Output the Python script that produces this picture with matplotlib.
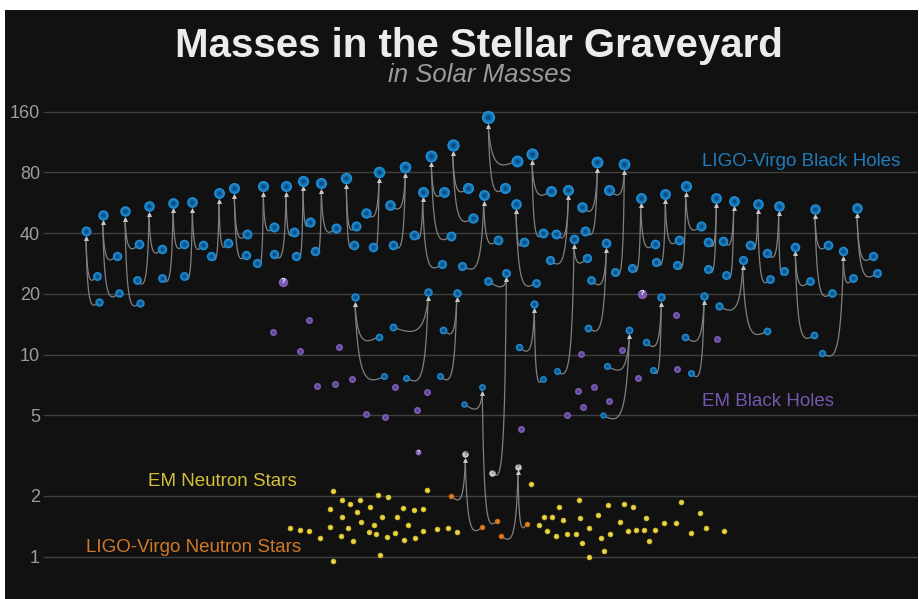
import matplotlib.pyplot as plt
import numpy as np
from matplotlib.ticker import NullLocator

plt.rcParams['font.family'] = ['Liberation Sans', 'DejaVu Sans']

# LIGO-Virgo binary black hole mergers: final mass and the two component masses
# (x is the horizontal placement of each object on the chart)
bbh_x = [86, 102.7, 125, 149, 173, 192.3, 219, 234.3, 263.3, 286, 303, 321.3, 346.3, 379,
         405.3, 422.7, 431.3, 452.7, 483.7, 488.3, 516, 532, 568.3, 574, 597.3, 606.3, 624.3,
         640.7, 665.3, 685.7, 716.3, 733.7, 757.7, 778.7, 815, 857, 355, 428, 456.7, 534.3,
         629.3, 661.3, 704, 742.7, 795.3, 843.3]
bbh_final = [41.0, 49.0, 51.2, 54.2, 56.4, 56.7, 63.0, 66.9, 68.2, 68.2, 72.7, 70.6, 75.0, 80.3,
             85.1, 64.1, 96.3, 108.9, 61.6, 149.9, 55.8, 98.6, 65.6, 37.3, 90.0, 35.7, 87.7,
             59.9, 62.7, 68.2, 59.9, 57.9, 55.9, 54.5, 52.7, 53.3, 19.2, 20.4, 20.3, 17.8,
             13.3, 19.2, 19.5, 29.3, 34.3, 32.7]
bbh_xa = [96.7, 116.7, 139.3, 137, 161.7, 184, 211.3, 247, 256.7, 273.7, 296.3, 314.7, 356,
          365.7, 390.3, 414, 443.7, 468.3, 462.3, 516.7, 524, 550.7, 555.7, 587.3, 581.7, 591.3,
          609.3, 655, 678.7, 701, 708.3, 723.3, 750, 767, 828, 873.3, 379, 392.7, 443.3, 519.3,
          607, 646, 685.3, 718.7, 809.7, 853]
bbh_ma = [24.5, 30.9, 35.2, 23.3, 23.9, 24.5, 30.7, 39.5, 28.6, 31.4, 30.9, 32.6, 43.4, 50.5,
          55.3, 39.3, 63.9, 67.1, 27.6, 91.3, 36.3, 64.7, 39.7, 30.1, 53.7, 23.3, 65.2, 35.5,
          37.1, 43.4, 36.0, 36.6, 34.9, 31.8, 35.1, 30.7, 12.3, 13.7, 13.3, 10.9, 8.8, 11.5,
          12.2, 17.4, 23.1, 23.9]
bbh_xb = [99, 118.7, 140, 161.7, 184, 203, 227.7, 246.5, 273.7, 294.3, 310.3, 335.7, 354.3,
          372.7, 393.3, 441.7, 450.7, 473.3, 498, 504.7, 536, 543.3, 549.7, 556.7, 585.3, 588,
          614.7, 632, 656.3, 677, 708, 726, 770.3, 784.3, 832, 877.3, 384.3, 406.3, 440.3, 543,
          603.3, 652.7, 691.3, 767.3, 814, 821.7]
bbh_mb = [18.3, 20.1, 18.1, 33.4, 35.2, 34.8, 35.6, 31.1, 43.1, 40.7, 45.4, 42.3, 35.1, 34.3,
          35.1, 28.0, 38.6, 47.5, 37.1, 66.9, 22.7, 39.9, 29.3, 8.3, 40.9, 13.6, 25.7, 26.8,
          28.9, 27.7, 26.6, 24.8, 23.6, 25.9, 20.2, 25.3, 7.8, 7.7, 7.8, 7.6, 5.0, 8.4, 8.1,
          13.1, 12.5, 10.2]

# mergers involving neutron stars or uncertain objects ('bh', 'ns', 'q' = unknown)
mix_x = [482.3, 506.3, 465.3, 518]
mix_final = [6.9, 25.5, 3.21, 2.79]
mix_final_kind = ['bh', 'bh', 'q', 'q']
mix_xa = [464.3, 488, 451, 500.7]
mix_ma = [5.7, 23.2, 2.00, 1.27]
mix_a_kind = ['bh', 'bh', 'ns', 'ns']
mix_xb = [497, 492.3, 482.3, 526.7]
mix_mb = [1.50, 2.60, 1.40, 1.45]
mix_b_kind = ['ns', 'q', 'ns', 'ns']

# EM black holes
embh_x = [273, 309, 300.3, 339, 317.3, 334.7, 351.7, 365.7, 384.7, 395.3, 416.7, 427, 520.7,
          567.3, 583, 578, 594.3, 608.7, 580.7, 622.3, 638.3, 676.7, 675.7, 716.7]
embh_m = [12.9, 14.8, 10.4, 10.9, 7.0, 7.2, 7.6, 5.1, 4.9, 6.9, 5.3, 6.5, 4.3, 5.0, 5.5, 6.6,
          6.9, 5.9, 10.1, 10.5, 7.7, 8.5, 15.7, 12.0]
embh_q_x = [282.7, 641.7, 418.3]
embh_q_m = [23.0, 20.0, 3.29]

# EM neutron stars
emns_x = [290, 300, 309, 320, 329.7, 330, 332.7, 342.3, 350.3, 360, 357.5, 342.2, 348.5, 341,
          353.3, 361, 370.3, 374, 369.3, 376, 377.7, 388.5, 382.3, 387, 395.5, 396.8, 403.5,
          413.8, 423.2, 408.3, 404, 415.2, 423.2, 426.8, 437.5, 447.7, 457.5, 333.3, 380.2,
          531.3, 558.7, 579, 608.3, 624.3, 633, 680.7, 700, 544, 552.3, 563.3, 580.3, 597.7,
          620.3, 646.3, 664.3, 675.7, 539, 547.3, 555.7, 566.7, 576.3, 589, 581.7, 601, 610.3,
          628, 636.3, 644.3, 655.3, 649, 691, 705.7, 724.3, 604.3, 589]
emns_m = [1.39, 1.36, 1.34, 1.24, 1.41, 1.73, 2.11, 1.91, 1.83, 1.90, 1.67, 1.57, 1.38, 1.27,
          1.20, 1.48, 1.76, 1.43, 1.32, 1.29, 2.01, 1.97, 1.57, 1.25, 1.31, 1.57, 1.74, 1.71,
          1.72, 1.43, 1.21, 1.24, 1.34, 2.14, 1.37, 1.39, 1.33, 0.95, 1.02, 2.29, 1.77, 1.90,
          1.81, 1.83, 1.76, 1.87, 1.65, 1.57, 1.57, 1.52, 1.55, 1.60, 1.48, 1.55, 1.46, 1.46,
          1.43, 1.34, 1.27, 1.29, 1.30, 1.38, 1.17, 1.23, 1.30, 1.34, 1.36, 1.35, 1.36, 1.20,
          1.31, 1.39, 1.34, 1.07, 1.00]

tick_vals = [1, 2, 5, 10, 20, 40, 80, 160]
tick_labels = ['1', '2', '5', '10', '20', '40', '80', '160']

BG = '#111111'
BLUE = ['#1f8fd6', '#1372b4', '#0a4d80']
PURPLE = ['#7b5cb2', '#5e4192']
YELLOW = ['#d6bf2c', '#f0de5a']
ORANGE = ['#cf6c17', '#e58a34']

fig = plt.figure(figsize=(9.2, 5.99), dpi=100, facecolor='white')
ax = fig.add_axes([5 / 920, 0, 913 / 920, 589 / 599])
ax.set_facecolor(BG)
ax.set_yscale('log')
ax.set_xlim(5, 918)
ax.set_ylim(0.617, 509)
for s in ax.spines.values():
    s.set_visible(False)
ax.set_xticks([])
ax.set_yticks(tick_vals, labels=tick_labels)
ax.yaxis.set_minor_locator(NullLocator())
ax.tick_params(axis='y', length=0, pad=-25.2, labelsize=13, labelcolor='#9c9c9c')
ax.hlines(tick_vals, 43, 918, color='#404040', lw=1, zorder=1)


def diam(m, kind):
    if kind == 'bh':
        return 4.4 * m ** 0.22
    if kind == 'q':
        return 6.5
    return 5.5


def dot(x, m, kind):
    d = diam(m, kind) * 0.72
    if kind == 'bh':
        ax.plot(x, m, 'o', ms=d, color=BLUE[0], mec='none', zorder=5)
        ax.plot(x, m, 'o', ms=d * 0.72, color=BLUE[1], mec='none', zorder=5)
        ax.plot(x, m, 'o', ms=d * 0.38, color=BLUE[2], mec='none', zorder=5)
    elif kind == 'ns':
        ax.plot(x, m, 'o', ms=d, color=ORANGE[0], mec='none', zorder=5)
        ax.plot(x, m, 'o', ms=d * 0.45, color=ORANGE[1], mec='none', zorder=5)
    else:
        ax.plot(x, m, 'o', ms=d, color='#c9c9c9', mec='none', zorder=5)
        ax.text(x, m, '?', ha='center', va='center', fontsize=4.5, fontweight='bold',
                color='#555555', zorder=6)


inv = ax.transData.inverted()


def link(xc, mc, xf, mf, rf):
    c = ax.transData.transform((xc, mc))
    f = ax.transData.transform((xf, mf))
    end = np.array([f[0], f[1] - rf - 3])
    dx = c[0] - f[0]
    p1 = np.array([f[0] + 0.4 * dx, c[1] - 8])
    p2 = np.array([f[0] + 0.12 * dx, c[1] - 8])
    t = np.linspace(0, 1, 80)[:, None]
    pts = (1 - t) ** 3 * c + 3 * (1 - t) ** 2 * t * p1 + 3 * (1 - t) * t ** 2 * p2 + t ** 3 * end
    d = inv.transform(pts)
    ax.plot(d[:, 0], d[:, 1], color='#808080', lw=0.9, zorder=2, solid_capstyle='round')
    a = inv.transform([end + [0, 1]])
    ax.plot(a[0, 0], a[0, 1], marker='^', ms=3.4, color='#c8c8c8', mec='none', zorder=3)


for i in range(len(bbh_x)):
    rf = diam(bbh_final[i], 'bh') / 2
    link(bbh_xa[i], bbh_ma[i], bbh_x[i], bbh_final[i], rf)
    link(bbh_xb[i], bbh_mb[i], bbh_x[i], bbh_final[i], rf)
    dot(bbh_x[i], bbh_final[i], 'bh')
    dot(bbh_xa[i], bbh_ma[i], 'bh')
    dot(bbh_xb[i], bbh_mb[i], 'bh')

for i in range(len(mix_x)):
    rf = diam(mix_final[i], mix_final_kind[i]) / 2
    link(mix_xa[i], mix_ma[i], mix_x[i], mix_final[i], rf)
    link(mix_xb[i], mix_mb[i], mix_x[i], mix_final[i], rf)
    dot(mix_x[i], mix_final[i], mix_final_kind[i])
    dot(mix_xa[i], mix_ma[i], mix_a_kind[i])
    dot(mix_xb[i], mix_mb[i], mix_b_kind[i])

# EM black holes
ax.plot(embh_x, embh_m, 'o', ms=7 * 0.72, color=PURPLE[0], mec='none', ls='none', zorder=4)
ax.plot(embh_x, embh_m, 'o', ms=3.5 * 0.72, color=PURPLE[1], mec='none', ls='none', zorder=4)
for x, m, s in zip(embh_q_x, embh_q_m, [9.5, 9.5, 6]):
    ax.plot(x, m, 'o', ms=s * 0.72, color=PURPLE[0], mec='none', zorder=4)
    ax.text(x, m, '?', ha='center', va='center', fontsize=s * 0.62, fontweight='bold',
            color='white', zorder=6)

# EM neutron stars
ax.plot(emns_x, emns_m, 'o', ms=5.5 * 0.72, color=YELLOW[0], mec='none', ls='none', zorder=4)
ax.plot(emns_x, emns_m, 'o', ms=2.6 * 0.72, color=YELLOW[1], mec='none', ls='none', zorder=4)

fig.text(478.5 / 920, 1 - 46 / 599, 'Masses in the Stellar Graveyard', ha='center',
         va='center', fontsize=29, fontweight='bold', color='#ececec')
fig.text(480 / 920, 1 - 75 / 599, 'in Solar Masses', ha='center', va='center',
         fontsize=18.5, style='italic', color='#9a9a9a')
fig.text(702 / 920, 1 - 161 / 599, 'LIGO-Virgo Black Holes', ha='left', va='center',
         fontsize=13.5, color='#1f7cbd')
fig.text(702 / 920, 1 - 401 / 599, 'EM Black Holes', ha='left', va='center',
         fontsize=13.5, color='#7657ad')
fig.text(148 / 920, 1 - 481.5 / 599, 'EM Neutron Stars', ha='left', va='center',
         fontsize=13.5, color='#d5bf38')
fig.text(86.5 / 920, 1 - 548 / 599, 'LIGO-Virgo Neutron Stars', ha='left', va='center',
         fontsize=13.5, color='#d0782a')

fig.savefig('out.png', dpi=100, facecolor='white')
